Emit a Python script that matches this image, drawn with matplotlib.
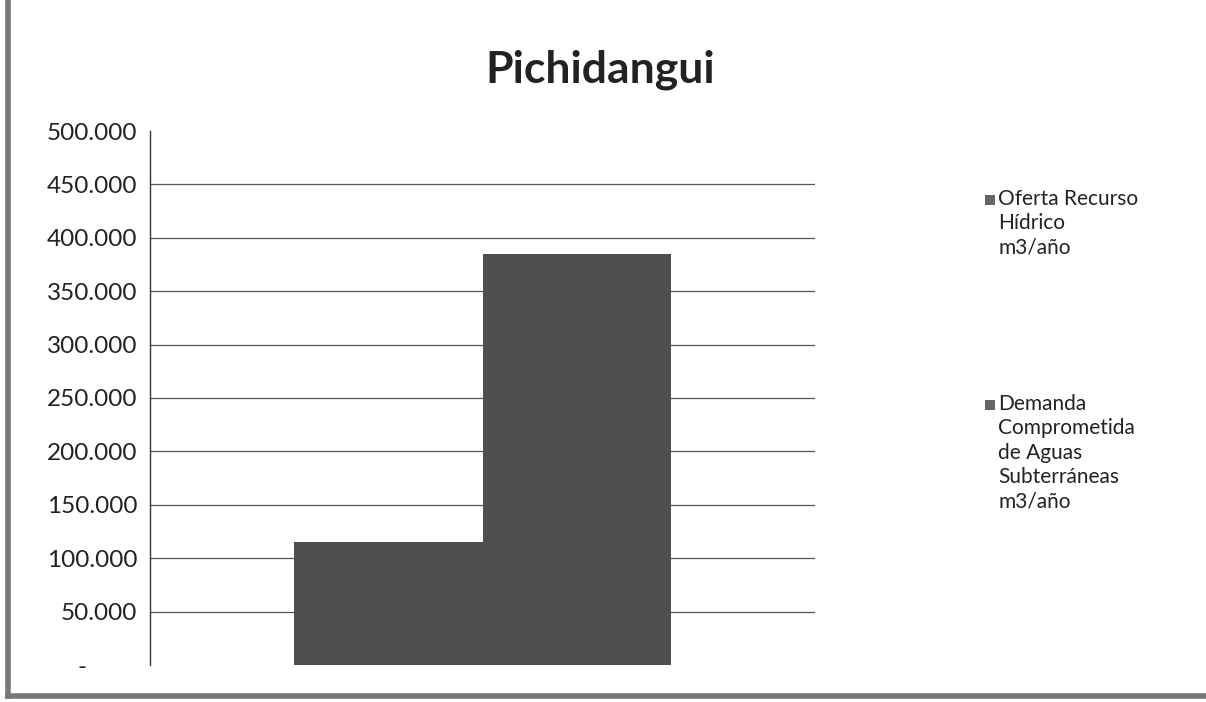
import matplotlib
matplotlib.use("Agg")
import matplotlib.pyplot as plt
from matplotlib.ticker import FuncFormatter
from matplotlib.patches import Rectangle

title = "Pichidangui"
series_names = ["Oferta Recurso\nHídrico\nm3/año",
                "Demanda\nComprometida\nde Aguas\nSubterráneas\nm3/año"]
series_values = [115000, 385000]
yticks = list(range(0, 500001, 50000))

plt.rcParams['font.family'] = ['Lato', 'DejaVu Sans']

fig = plt.figure(figsize=(12.06, 7.02), dpi=100)
ax = fig.add_axes([150/1206, 1-665/702, (815-150)/1206, (665-131)/702])

bar_color = '#4f4f4f'
total_w = 0.568
w = total_w / len(series_values)
for i, v in enumerate(series_values):
    xpos = -total_w/2 + w*(i+0.5)
    ax.bar(xpos, v, width=w, color=bar_color, zorder=3, linewidth=0)

ax.set_xlim(-0.5, 0.5)
ax.set_ylim(0, 500000)
ax.set_yticks(yticks)

def fmt(v, pos):
    if v == 0:
        return "-        "
    return f"{int(v):,}".replace(",", ".")
ax.yaxis.set_major_formatter(FuncFormatter(fmt))
ax.tick_params(axis='y', length=0, pad=9, labelsize=17.5, labelcolor='#222222')
ax.set_xticks([])

for y in yticks[1:-1]:
    ax.axhline(y, color='#555555', linewidth=0.9, zorder=1)

for s in ['top', 'right', 'bottom']:
    ax.spines[s].set_visible(False)
ax.spines['left'].set_color('#333333')
ax.spines['left'].set_linewidth(1.0)

fig.text(600/1206, 1-70/702, title, ha='center', va='center',
         fontsize=32, fontweight='bold', color='#222222')

# legend, drawn as squares + multiline labels aligned at first line
legend_tops = [200, 405]
for name, ytop in zip(series_names, legend_tops):
    fig.add_artist(Rectangle((985/1206, 1-(ytop+5)/702), 10/1206, 10/702,
                             transform=fig.transFigure, facecolor='#666666',
                             edgecolor='none'))
    fig.text(998/1206, 1-(ytop-11)/702, name, ha='left', va='top',
             fontsize=15, linespacing=1.28, color='#222222')

# scanned page border (left and bottom)
fig.add_artist(plt.Line2D([8/1206, 8/1206], [1-696/702, 1.0], transform=fig.transFigure,
                          color='#777777', linewidth=4))
fig.add_artist(plt.Line2D([8/1206, 1.0], [1-696/702, 1-696/702], transform=fig.transFigure,
                          color='#777777', linewidth=4))

fig.savefig("out.png", dpi=100, facecolor='white')
